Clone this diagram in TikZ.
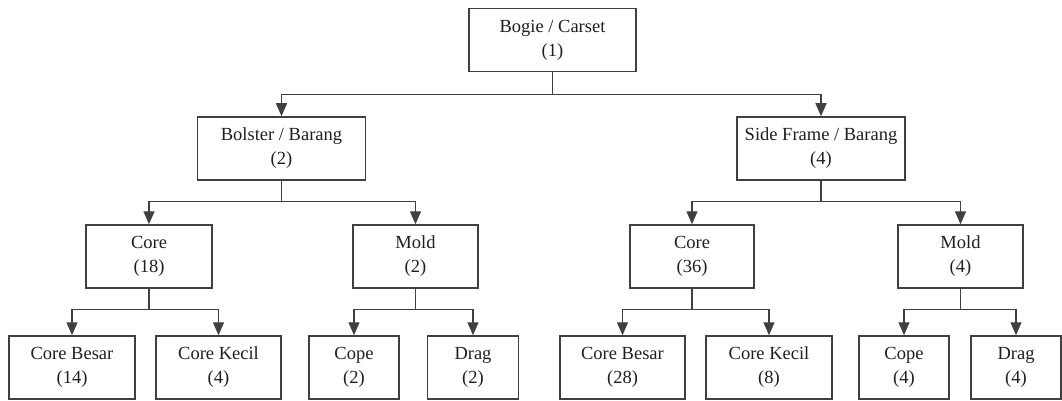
\documentclass[tikz,border=0pt]{standalone}
\usepackage{fontspec}
\setmainfont{Liberation Serif}
\newfontfamily\boxfont{Liberation Serif}
\usetikzlibrary{arrows.meta}
\begin{document}
\begin{tikzpicture}[x=1pt,y=-1pt,
  box/.style={draw=black!75,line width=1.5pt,minimum height=63pt,inner sep=0pt,
    align=center,font=\boxfont\fontsize{18.5}{24}\selectfont,text=black!88},
  arr/.style={draw=black!75,line width=1.4pt,-{Triangle[length=13pt,width=11pt]}}]
\useasboundingbox (0,0) rectangle (1062,401);
% level 1
\node[box,minimum width=167pt] (top) at (552.5,40) {Bogie / Carset\\(1)};
% level 2
\node[box,minimum width=168pt] (bol) at (281.5,148.5) {Bolster / Barang\\(2)};
\node[box,minimum width=168pt] (sf) at (821,148.5) {Side Frame / Barang\\(4)};
% level 3
\node[box,minimum width=126pt] (c1) at (149,256.5) {Core\\(18)};
\node[box,minimum width=125pt] (m1) at (415.5,256.5) {Mold\\(2)};
\node[box,minimum width=124pt] (c2) at (692,256.5) {Core\\(36)};
\node[box,minimum width=125pt] (m2) at (960.5,256.5) {Mold\\(4)};
% level 4
\node[box,minimum width=126pt] (cb1) at (72,367.5) {Core Besar\\(14)};
\node[box,minimum width=125pt] (ck1) at (218.5,367.5) {Core Kecil\\(4)};
\node[box,minimum width=90pt] (cp1) at (354,367.5) {Cope\\(2)};
\node[box,minimum width=91pt] (dr1) at (473,367.5) {Drag\\(2)};
\node[box,minimum width=125pt] (cb2) at (622.5,367.5) {Core Besar\\(28)};
\node[box,minimum width=126pt] (ck2) at (769,367.5) {Core Kecil\\(8)};
\node[box,minimum width=90pt] (cp2) at (904,367.5) {Cope\\(4)};
\node[box,minimum width=90pt] (dr2) at (1016,367.5) {Drag\\(4)};
% connectors
\draw[arr] (top.south) -- ++(0,22) -| (bol.north);
\draw[arr] (top.south) -- ++(0,22) -| (sf.north);
\draw[arr] (bol.south) -- ++(0,21) -| (c1.north);
\draw[arr] (bol.south) -- ++(0,21) -| (m1.north);
\draw[arr] (sf.south) -- ++(0,21) -| (c2.north);
\draw[arr] (sf.south) -- ++(0,21) -| (m2.north);
\draw[arr] (c1.south) -- ++(0,21) -| (cb1.north);
\draw[arr] (c1.south) -- ++(0,21) -| (ck1.north);
\draw[arr] (m1.south) -- ++(0,21) -| (cp1.north);
\draw[arr] (m1.south) -- ++(0,21) -| (dr1.north);
\draw[arr] (c2.south) -- ++(0,21) -| (cb2.north);
\draw[arr] (c2.south) -- ++(0,21) -| (ck2.north);
\draw[arr] (m2.south) -- ++(0,21) -| (cp2.north);
\draw[arr] (m2.south) -- ++(0,21) -| (dr2.north);
\end{tikzpicture}
\end{document}
